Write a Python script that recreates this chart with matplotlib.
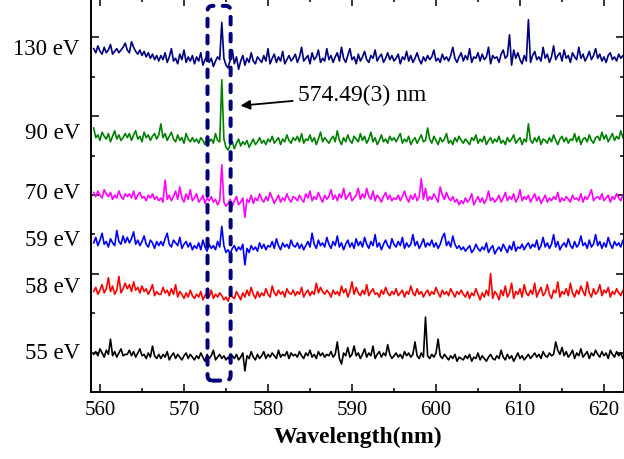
import numpy as np
import matplotlib
matplotlib.use("Agg")
import matplotlib.pyplot as plt
from matplotlib.patches import FancyBboxPatch
from matplotlib.ticker import MultipleLocator
from matplotlib.transforms import blended_transform_factory

plt.rcParams.update({
    "font.family": "serif",
    "font.serif": ["Liberation Serif", "DejaVu Serif"],
    "font.size": 14,
})

# spectrometer grid (nm)
wl_start = 559.25
wl_step = 0.25

labels = ["55 eV", "58 eV", "59 eV", "70 eV", "90 eV", "130 eV"]
colors = ["black", "#ff0000", "#0000ff", "#ff00ff", "#008000", "#000080"]
offsets = [0.85, 2.41, 3.61, 4.82, 6.28, 8.40]
label_y = [1.0, 2.67, 3.86, 5.06, 6.58, 8.73]
counts_scale = 0.035

line_nm = 574.49

# raw counts (background subtracted), one row = 4 nm
spec_55 = [
    3, 5, 2, 7, 4, 1, 6, 3, 14, 2, 5, 1, 4, 7, 2, 3,
    3, 6, 2, 5, 1, 4, 7, 2, 3, 0, 4, 1, 9, 2, 0, 3,
    0, 3, 1, 5, -1, 2, 4, 0, 3, 1, -1, 2, 4, 0, 3, 1,
    -1, 2, 0, 4, 1, -2, 3, 0, 2, 6, -1, 1, 3, 0, 2, -1,
    1, -2, 2, 0, 3, -1, 1, 4, -9, 2, 0, 5, 1, -1, 3, 0,
    2, 5, 0, 3, 1, 4, 2, 0, 6, 1, 3, 2, 5, 0, 4, 2,
    3, 1, 5, 2, 0, 4, 2, 6, 1, 3, 0, 5, 2, 4, 1, 3,
    2, 5, 1, 3, 12, 0, -4, 4, 2, 8, 1, 3, 9, 2, 4, 0,
    3, 7, 1, 4, 2, 9, 0, 3, 5, 1, 4, 2, 10, 3, 0, 2,
    4, 1, 3, 0, 5, 2, 4, 1, 3, 12, 2, 0, 4, 1, 30, 2,
    0, 3, 1, 4, 14, 2, 0, 3, 1, -1, 2, 0, 3, -2, 1, 0,
    -1, 2, 0, 3, -2, 1, 0, 4, -1, 2, 0, -2, 1, 3, 0, -1,
    2, 0, 6, 1, -1, 3, 0, 2, -2, 1, 4, 0, 2, -1, 1, 3,
    0, 2, 4, 1, 3, 0, 5, 2, 1, 4, 2, 3, 12, 6, 3, 8,
    2, 5, 1, 3, 6, 0, 4, 2, 7, 1, 3, 5, 0, 4, 2, 6,
    3, 1, 5, 2, 4, 0, 6, 3, 1, 5, 2, 4, 0, 3, 6, 2,
]

spec_58 = [
    4, 7, 2, 5, 9, 3, 6, 14, 4, 8, 2, 5, 15, 3, 6, 10,
    6, 9, 4, 11, 5, 7, 3, 8, 4, 6, 2, 5, 9, 1, 4, 2,
    2, 7, 3, 5, 1, 6, 2, 9, 0, 4, 2, -1, 3, 0, 5, 1,
    -1, 2, 0, 4, -2, 1, 3, 0, 5, -1, 2, 0, 3, 1, -2, 0,
    -3, 2, 0, -1, 4, 1, -2, 3, 0, 5, 1, 7, 2, -1, 4, 0,
    3, 1, 6, 2, 0, 8, 3, 1, 5, 2, 4, 0, 6, 3, 2, 5,
    1, 4, 2, 7, 0, 3, 5, 1, 4, 2, 10, 3, 7, 4, 2, 5,
    3, 0, 5, 2, 4, 1, 8, 3, 6, 0, 4, 11, 2, 7, 3, 1,
    5, 2, 9, 1, 4, 6, 2, 3, 0, 5, 2, 7, 3, 1, 4, 2,
    6, 1, 3, 5, 0, 4, 2, 8, 3, 1, 6, 2, 4, 0, 3, 5,
    1, 4, 2, 7, 3, 0, 5, 2, 4, 1, 6, 3, 0, 4, 2, 5,
    2, 0, 4, -1, 3, 1, 6, 2, -2, 3, 0, 5, 1, 17, -1, 4,
    2, -2, 5, 1, 8, 0, 3, 10, -1, 4, 2, 6, 0, 9, 3, 1,
    5, 2, 10, 0, 4, 7, 1, 3, 9, 2, -1, 5, 3, 11, 0, 4,
    2, 6, 1, 10, 3, 0, 5, 2, 8, 4, 1, 11, 3, 0, 6, 2,
    4, 9, 1, 5, 3, 7, 0, 4, 2, 6, 3, 1, 5, 2, 4, 3,
]

spec_59 = [
    5, 9, 3, 7, 12, 4, 6, 2, 8, 5, 3, 14, 6, 4, 10, 5,
    9, 5, 8, 13, 4, 7, 3, 6, 10, 4, 2, 7, 5, 1, 6, 3,
    6, 3, 8, 12, 4, 2, 7, 5, 3, 9, 1, 4, 6, 2, 5, 0,
    3, 1, 5, 0, 7, 2, -1, 4, 1, 3, 0, 6, 2, 17, 3, -2,
    0, -3, 1, 3, -1, 2, 0, 4, -11, 1, -2, 3, 0, 2, -1, 5,
    1, 4, 0, 3, 2, 6, 1, 8, 3, 0, 5, 2, 4, 1, 7, 3,
    2, 5, 1, 4, 0, 3, 6, 2, 12, 4, 1, 7, 3, 5, 2, 9,
    4, 1, 6, 3, 10, 2, 5, 0, 4, 7, 2, 5, 1, 8, 3, 6,
    2, 9, 4, 1, 6, 3, 11, 2, 5, 0, 4, 7, 3, 1, 8, 4,
    2, 6, 3, 9, 1, 5, 2, 4, 11, 3, 6, 1, 4, 8, 2, 5,
    3, 7, 2, 5, 1, 4, 9, 12, 3, 6, 2, 10, 4, 1, 3, 0,
    2, -1, 1, 3, -2, 0, 4, 1, -1, 2, 0, 5, -2, 1, 3, -3,
    0, 2, -1, 4, 1, -2, 3, 0, 6, -1, 2, 1, 4, 0, 3, 5,
    1, 4, 2, 7, 0, 3, 9, 2, 5, 1, 4, 11, 2, 6, 0, 3,
    5, 2, 8, 3, 1, 6, 2, 4, 10, 3, 5, 1, 7, 2, 4, 11,
    3, 6, 1, 5, 2, 9, 4, 1, 6, 3, 5, 2, 7, 4, 1, 5,
]

spec_70 = [
    7, 4, 8, 5, 3, 9, 6, 4, 7, 2, 5, 3, 8, 4, 2, 6,
    4, 6, 3, 8, 2, 5, 7, 3, 4, 1, 5, 3, 6, 2, 4, 1,
    3, 0, 16, 2, 5, 1, 4, 8, 2, 11, 3, 0, 6, 2, 9, 1,
    3, 6, 0, 2, 5, -1, 3, 1, 4, 0, 2, -2, 1, 27, 0, -3,
    -1, 2, -3, 1, 4, -2, 0, 3, -11, 2, 0, 5, -1, 3, 1, 6,
    2, 0, 4, 1, 7, 3, -1, 2, 5, 0, 3, 1, 6, 2, 0, 4,
    3, 1, 5, 2, 0, 6, 3, 8, 1, 4, 2, 7, 3, 0, 5, 2,
    4, 9, 2, 5, 1, 6, 3, 10, 2, 4, 7, 1, 3, 5, 10, 2,
    6, 3, 10, 4, 2, 8, 1, 5, 3, 0, 4, 7, 2, 5, 1, 3,
    2, 5, 1, 4, 8, 3, 0, 5, 2, 6, 1, 4, 17, 2, 10, 1,
    4, 2, 6, 3, 0, 11, 5, 2, 7, 3, 1, 4, 0, 2, -2, 1,
    -1, 3, 0, 2, 6, -2, 1, 4, 0, 3, -1, 2, 8, 1, 3, 0,
    2, 5, 0, 3, 7, 1, 4, 2, 6, 0, 3, 9, 1, 4, 2, 5,
    0, 3, 6, 1, 4, -1, 2, 5, 0, 3, 1, 4, 2, 7, 0, 3,
    1, 4, 2, 0, 5, 2, 3, 1, 6, 0, 4, 2, 5, 9, 1, 3,
    4, 2, 6, 1, 3, 5, 0, 4, 2, 6, 3, 1, 5, 2, 4, 3,
]

spec_90 = [
    12, 5, 7, 3, 9, 6, 4, 8, 2, 6, 10, 4, 7, 3, 5, 8,
    5, 8, 3, 7, 10, 4, 6, 2, 9, 5, 7, 3, 6, 8, 4, 7,
    15, 5, 8, 3, 6, 9, 4, 2, 7, 3, 5, 1, 8, 4, 2, 5,
    2, 4, 1, 5, 3, 0, 6, 2, 4, 1, 8, 3, 2, 47, 4, -2,
    -4, 0, 2, -3, 1, 4, -1, 2, 0, 3, -2, 1, 4, 0, 2, 5,
    1, 3, 0, 4, 2, 6, 1, 3, 5, 0, 4, 2, 7, 3, 1, 5,
    3, 6, 2, 8, 1, 4, 3, 7, 2, 5, 0, 4, 9, 2, 5, 3,
    1, 4, 6, 2, 10, 3, 0, 5, 2, 7, 3, 1, 6, 4, 2, 8,
    3, 6, 1, 4, 9, 2, 5, 0, 3, 7, 2, 4, 1, 6, 3, 5,
    2, 5, 8, 1, 4, 2, 6, 0, 3, 5, 1, 4, 7, 2, 3, 12,
    4, 1, 6, 3, 0, 5, 2, 4, 8, 1, 3, 0, 5, 2, 6, 3,
    1, 4, 2, 0, 5, 3, 7, 1, 4, 2, 6, 0, 3, 5, 1, 4,
    2, 6, 1, 3, 0, 5, 2, 4, 7, 1, 3, 5, 0, 4, 2, 15,
    3, 1, 5, 2, 6, 0, 4, 3, 1, 5, 2, 7, 3, 0, 4, 6,
    2, 5, 1, 4, 3, 8, 2, 6, 0, 4, 5, 2, 7, 3, 1, 5,
    6, 3, 9, 4, 7, 2, 5, 8, 3, 6, 4, 10, 5, 3, 7, 4,
]

spec_130 = [
    9, 6, 11, 7, 5, 10, 6, 8, 12, 5, 7, 9, 6, 8, 10, 13,
    8, 6, 14, 10, 7, 5, 8, 4, 7, 3, 6, 2, 5, 1, 4, 0,
    4, 1, 6, -1, 3, 9, 0, 2, -2, 5, 1, 8, -1, 3, 0, 4,
    -2, 3, 0, 6, -3, 1, 4, -1, 2, -4, 0, 3, 1, 28, 2, -3,
    -5, 1, 8, -2, 3, -6, 0, 4, -3, 2, -1, 6, 0, -2, 3, 1,
    -1, 4, 0, 9, -2, 2, 5, -1, 3, 0, 7, -2, 1, 4, 0, 2,
    5, -1, 3, 10, 0, 2, 4, -2, 6, 1, 3, 8, -1, 2, 0, 9,
    1, 4, -1, 3, 6, 0, 10, 2, -1, 4, 9, 1, 3, -2, 5, 0,
    3, 7, 1, -1, 4, 2, 8, 0, 3, 5, -1, 2, 6, 1, 4, 0,
    2, 5, -2, 3, 1, 7, 0, 4, -1, 2, 6, 1, -2, 3, 0, 4,
    1, 3, 8, 0, 2, -1, 5, 1, 3, 0, 4, 10, 2, -1, 3, 6,
    0, 4, 1, 9, -1, 3, 2, 6, 0, 5, 1, 3, 10, -2, 4, 2,
    3, -1, 5, 8, 2, 4, 19, -3, 8, 2, 6, 1, -2, 4, 0, 30,
    -1, 4, 7, 1, 3, 0, 10, 2, 5, -1, 3, 11, 1, 4, 6, 0,
    8, 2, 4, -1, 6, 3, 1, 10, 2, 5, 0, 3, 7, 1, 4, 9,
    2, 5, 0, 3, -1, 4, 6, 1, 3, 0, 5, 2, 4, 1, 3, 2,
]

spectra = [spec_55, spec_58, spec_59, spec_70, spec_90, spec_130]

fig = plt.figure(figsize=(6.24, 4.6), dpi=100)
ax = fig.add_axes([91 / 624, 67 / 460, 533.5 / 624, 394 / 460])

# ===============================
# stacked spectra
# ===============================
for vals, off, col in zip(spectra, offsets, colors):
    vals = np.array(vals, dtype=float)
    wl = wl_start + wl_step * np.arange(len(vals))
    ax.plot(wl, off + vals * counts_scale, color=col, lw=1.2)

# energy labels left of the axis
trans = blended_transform_factory(ax.transAxes, ax.transData)
for lab, y in zip(labels, label_y):
    ax.text(-0.021, y, lab, transform=trans, ha="right", va="center", fontsize=16.5)

# dashed box around the line
box = FancyBboxPatch(
    (572.8, 0.29), 2.75, 9.51,
    boxstyle="round,pad=0,rounding_size=0.6",
    mutation_aspect=8.4 / 39.4,
    fill=False, edgecolor="#00007a", lw=2.9,
    linestyle=(0, (1.9, 2.3)), capstyle="round", zorder=5,
)
ax.add_patch(box)

ax.annotate(
    f"{line_nm:.2f}(3) nm", xy=(576.4, 7.26), xytext=(583.6, 7.55),
    ha="left", va="center", fontsize=17,
    arrowprops=dict(arrowstyle="-|>", color="black", lw=1.3, mutation_scale=14),
)

# Final plot polish
ax.set_xlim(558.93, 622.44)
ax.set_ylim(0, 10)
ax.xaxis.set_major_locator(MultipleLocator(10))
ax.xaxis.set_minor_locator(MultipleLocator(5))
ax.set_yticks([1, 3, 5, 7, 9])
ax.set_yticks([2, 4, 6, 8], minor=True)
ax.tick_params(which="both", direction="in", top=True, right=True, width=1.1,
               labelleft=False, labelsize=15, pad=6)
ax.tick_params(which="major", length=5.5)
ax.tick_params(which="minor", length=3)
for sp in ax.spines.values():
    sp.set_linewidth(1.4)

ax.set_xlabel("Wavelength(nm)", fontsize=17, fontweight="bold", labelpad=5)

fig.savefig("out.png", dpi=100)
